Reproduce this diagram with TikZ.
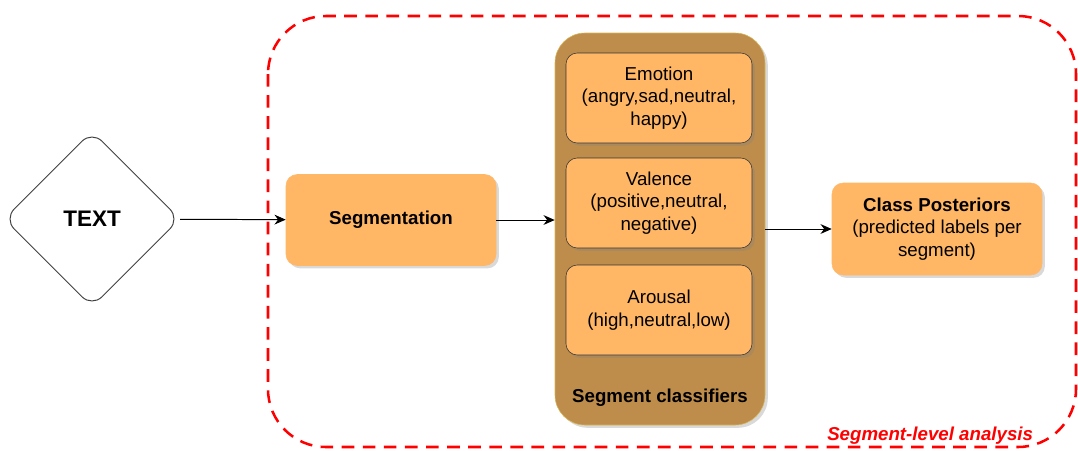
\documentclass[tikz,border=0pt]{standalone}
\usepackage{fontspec}
\setmainfont{Liberation Sans}
\usetikzlibrary{shapes.geometric,arrows.meta,shadows}
\definecolor{boxorange}{RGB}{255,183,102}
\definecolor{boxbrown}{RGB}{190,141,76}
\definecolor{brownedge}{RGB}{214,182,86}
\tikzset{
  shade box/.style={drop shadow={shadow xshift=2pt,shadow yshift=-2pt,opacity=0.3}},
  stagebox/.style={rounded corners=8pt, fill=boxorange, draw=boxorange, shade box, minimum width=5.25cm, align=center},
  classbox/.style={draw=black!80, rounded corners=8pt, fill=boxorange, shade box, minimum width=4.65cm, minimum height=2.25cm, align=center},
  flow/.style={-{Stealth[length=8pt,width=7pt]}, line width=0.7pt}
}
\begin{document}
\begin{tikzpicture}[font=\fontsize{13.3}{16}\selectfont]
\useasboundingbox (0,0) rectangle (26.95,-11.25);
% analysis frame
\draw[red, line width=1.8pt, dash pattern=on 9pt off 6pt, rounded corners=1.45cm] (6.7,-0.4) rectangle (26.9,-11.175);
\node[anchor=east, text=red, font=\fontsize{13.3}{16}\selectfont\bfseries\itshape] (frame) at (25.95,-10.9) {Segment-level analysis};

\node[draw=black!75, diamond, rounded corners=10pt, minimum width=4.4cm, minimum height=4.4cm, line width=0.7pt, font=\fontsize{16}{18}\selectfont\bfseries] (text) at (2.3,-5.475) {TEXT};
\node[stagebox, minimum height=2.275cm, font=\fontsize{13.3}{16}\selectfont\bfseries] (seg) at (9.775,-5.5) {Segmentation};

\node[draw=brownedge, fill=boxbrown, rounded corners=0.75cm, shade box, minimum width=5.25cm, minimum height=9.8cm] (classifiers) at (16.5,-5.725) {};
\node[font=\fontsize{13.3}{16}\selectfont\bfseries] (clslabel) at (16.5,-9.95) {Segment classifiers};
\node[classbox] (emotion) at (16.475,-2.45) {Emotion\\(angry,sad,neutral,\\happy)};
\node[classbox] (valence) at (16.475,-5.075) {Valence\\(positive,neutral,\\negative)};
\node[classbox] (arousal) at (16.475,-7.75) {Arousal\\(high,neutral,low)};

\node[stagebox, minimum height=2.3cm] (post) at (23.425,-5.725) {\textbf{Class Posteriors}\\(predicted labels per\\segment)};

\draw[flow] (text) -- (seg);
\draw[flow] (seg.east) -- (seg.east -| classifiers.west);
\draw[flow] (classifiers) -- (post);
\end{tikzpicture}
\end{document}
